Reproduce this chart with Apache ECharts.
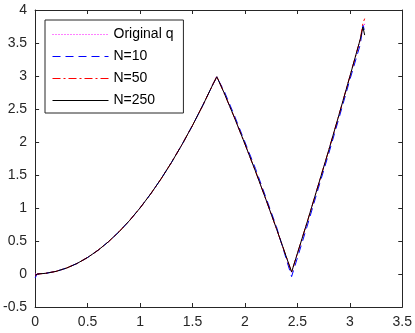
<!DOCTYPE html>
<html>
<head>
<meta charset="utf-8">
<script src="https://cdn.jsdelivr.net/npm/echarts@6/dist/echarts.min.js"></script>
<style>
  html, body { margin: 0; padding: 0; background: #fff; }
  #chart { width: 415px; height: 333px; }
</style>
</head>
<body>
<div id="chart"></div>
<script>
// Shared x positions
var xs = [0, 0.02, 0.1, 0.2, 0.3, 0.4, 0.5, 0.6, 0.7, 0.8, 0.9, 1.0, 1.1, 1.2, 1.3, 1.4, 1.5, 1.6, 1.7, 1.732,
          1.8, 1.9, 2.0, 2.1, 2.2, 2.3, 2.445,
          2.6, 2.7, 2.8, 2.9, 3.0, 3.1, 3.125, 3.1416];

var seriesNames = ['Original q', 'N=10', 'N=50', 'N=250'];

var yOriginal = [0, 0.0004, 0.01, 0.04, 0.09, 0.16, 0.25, 0.36, 0.49, 0.64, 0.81, 1.0, 1.21, 1.44, 1.69, 1.96, 2.25, 2.56, 2.89, 3.0,
                 2.75, 2.37, 1.97, 1.56, 1.13, 0.69, 0.02,
                 0.82, 1.35, 1.88, 2.43, 2.99, 3.56, 3.70, 3.79];
var yN10 =      [-0.06, 0.0, 0.01, 0.04, 0.09, 0.16, 0.25, 0.36, 0.49, 0.64, 0.81, 1.0, 1.21, 1.44, 1.69, 1.96, 2.25, 2.56, 2.89, 2.98,
                 2.78, 2.40, 2.00, 1.60, 1.16, 0.72, -0.04,
                 0.76, 1.30, 1.83, 2.38, 2.94, 3.48, 3.77, 3.68];
var yN50 =      [-0.03, 0.0, 0.01, 0.04, 0.09, 0.16, 0.25, 0.36, 0.49, 0.64, 0.81, 1.0, 1.21, 1.44, 1.69, 1.96, 2.25, 2.56, 2.89, 2.99,
                 2.75, 2.37, 1.97, 1.56, 1.13, 0.69, 0.03,
                 0.82, 1.35, 1.88, 2.43, 2.99, 3.56, 3.80, 3.87];
var yN250 =     [-0.02, 0.0, 0.01, 0.04, 0.09, 0.16, 0.25, 0.36, 0.49, 0.64, 0.81, 1.0, 1.21, 1.44, 1.69, 1.96, 2.25, 2.56, 2.89, 2.99,
                 2.75, 2.37, 1.97, 1.56, 1.13, 0.69, 0.03,
                 0.82, 1.35, 1.88, 2.43, 2.99, 3.56, 3.74, 3.62];

function pairs(x, y) { return x.map(function (v, i) { return [v, y[i]]; }); }

var axisColor = '#262626';
var fontFam = '"Liberation Sans", Arial, Helvetica, sans-serif';

var chart = echarts.init(document.getElementById('chart'), null, { renderer: 'canvas' });

var option = {
  animation: false,
  backgroundColor: '#ffffff',
  grid: { left: 34, right: 10, top: 10, bottom: 26, containLabel: false },
  legend: {
    orient: 'vertical',
    left: 45,
    top: 20,
    data: seriesNames,
    itemWidth: 56,
    itemHeight: 13,
    itemGap: 8,
    padding: [7.5, 10, 5.5, 7],
    borderColor: axisColor,
    borderWidth: 1,
    borderRadius: 0,
    backgroundColor: '#ffffff',
    itemStyle: { color: 'rgba(0,0,0,0)', borderWidth: 0, borderColor: 'rgba(0,0,0,0)' },
    lineStyle: { width: 1 },
    textStyle: { fontSize: 14, color: '#000000', fontFamily: fontFam },
    selectedMode: false
  },
  xAxis: [
    {
      type: 'value', min: 0, max: 3.5, interval: 0.5, position: 'bottom',
      axisLine: { show: true, onZero: false, lineStyle: { color: axisColor, width: 1 } },
      axisTick: { show: true, inside: true, length: 4, lineStyle: { color: axisColor } },
      axisLabel: { show: true, fontSize: 14, color: axisColor, fontFamily: fontFam, margin: 8 },
      splitLine: { show: false }
    },
    {
      type: 'value', min: 0, max: 3.5, interval: 0.5, position: 'top',
      axisLine: { show: true, onZero: false, lineStyle: { color: axisColor, width: 1 } },
      axisTick: { show: true, inside: true, length: 4, lineStyle: { color: axisColor } },
      axisLabel: { show: false },
      splitLine: { show: false }
    }
  ],
  yAxis: [
    {
      type: 'value', min: -0.5, max: 4, interval: 0.5, position: 'left',
      axisLine: { show: true, onZero: false, lineStyle: { color: axisColor, width: 1 } },
      axisTick: { show: true, inside: true, length: 4, lineStyle: { color: axisColor } },
      axisLabel: { show: true, fontSize: 14, color: axisColor, fontFamily: fontFam, margin: 8 },
      splitLine: { show: false }
    },
    {
      type: 'value', min: -0.5, max: 4, interval: 0.5, position: 'right',
      axisLine: { show: true, onZero: false, lineStyle: { color: axisColor, width: 1 } },
      axisTick: { show: true, inside: true, length: 4, lineStyle: { color: axisColor } },
      axisLabel: { show: false },
      splitLine: { show: false }
    }
  ],
  series: [
    {
      name: seriesNames[0], type: 'line', symbol: 'none', xAxisIndex: 0, yAxisIndex: 0,
      data: pairs(xs, yOriginal),
      lineStyle: { color: '#ff00ff', width: 1, type: [1, 2] },
      itemStyle: { color: '#ff00ff' }
    },
    {
      name: seriesNames[1], type: 'line', symbol: 'none', xAxisIndex: 0, yAxisIndex: 0,
      data: pairs(xs, yN10),
      lineStyle: { color: '#0000ff', width: 1, type: [8, 5] },
      itemStyle: { color: '#0000ff' }
    },
    {
      name: seriesNames[2], type: 'line', symbol: 'none', xAxisIndex: 0, yAxisIndex: 0,
      data: pairs(xs, yN50),
      lineStyle: { color: '#ff0000', width: 1, type: [8, 3, 2, 3] },
      itemStyle: { color: '#ff0000' }
    },
    {
      name: seriesNames[3], type: 'line', symbol: 'none', xAxisIndex: 0, yAxisIndex: 0,
      data: pairs(xs, yN250),
      lineStyle: { color: '#000000', width: 1, type: 'solid' },
      itemStyle: { color: '#000000' }
    }
  ]
};

chart.setOption(option);
</script>
</body>
</html>
